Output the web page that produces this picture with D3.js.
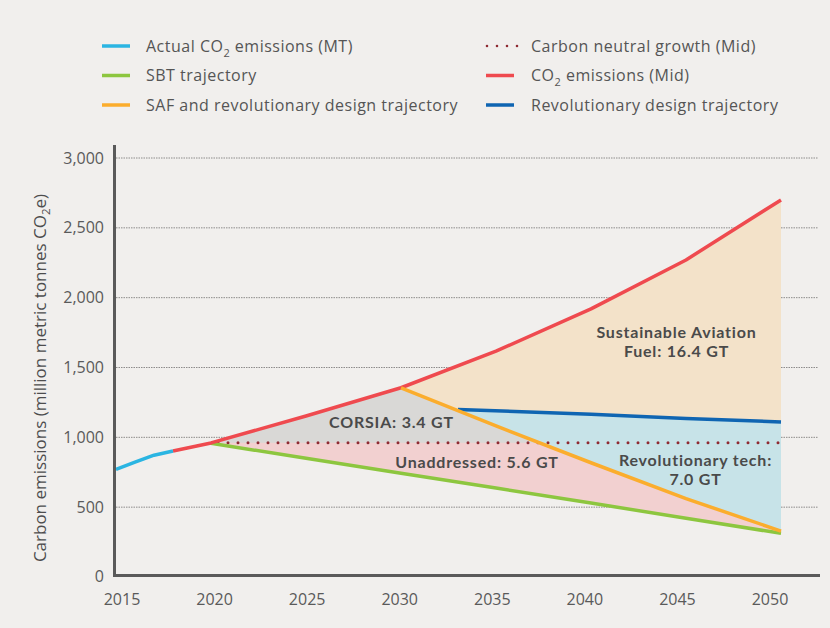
<!DOCTYPE html>
<html>
<head>
<meta charset="utf-8">
<script src="https://cdn.jsdelivr.net/npm/d3@7"></script>
<style>
  body { margin: 0; background: #f1efed; }
  svg { display: block; font-family: "Open Sans", sans-serif; }
</style>
</head>
<body>
<div id="chart"></div>
<script>
// values: [year, million tonnes]
var actualCO2 = [[2015, 771], [2016, 822], [2017, 872], [2018, 902]];
var co2Mid = [[2018, 902], [2020, 960], [2025, 1153], [2030, 1355],
              [2035, 1617], [2040, 1920], [2045, 2270], [2050, 2700]];
var sbt = [[2020, 957], [2025, 850], [2030, 743], [2035, 637],
           [2040, 530], [2045, 420], [2050, 313]];
var safRev = [[2030, 1355], [2035, 1082], [2040, 818], [2045, 561],
              [2050, 329]];
var revDesign = [[2033, 1200], [2040, 1165], [2045, 1135], [2050, 1110]];
var carbonNeutral = [[2020, 961], [2050, 961]];

var yearTicks = [2015, 2020, 2025, 2030, 2035, 2040, 2045, 2050];
var valueTicks = [0, 500, 1000, 1500, 2000, 2500, 3000];

var areaLabels = [
  {text: "Sustainable Aviation", year: 2044.5, value: 1752},
  {text: "Fuel: 16.4 GT", year: 2044.5, value: 1614},
  {text: "CORSIA: 3.4 GT", year: 2029.5, value: 1110},
  {text: "Unaddressed: 5.6 GT", year: 2034.0, value: 820},
  {text: "Revolutionary tech:", year: 2045.5, value: 837},
  {text: "7.0 GT", year: 2045.5, value: 699}
];

var legendItems = [
  {name: ["Actual CO", "2", " emissions (MT)"], color: "#2bb5e2", col: 0, row: 0},
  {name: ["SBT trajectory"], color: "#8dc63f", col: 0, row: 1},
  {name: ["SAF and revolutionary design trajectory"], color: "#fbad2d", col: 0, row: 2},
  {name: ["Carbon neutral growth (Mid)"], color: "#8f2a32", col: 1, row: 0, dotted: true},
  {name: ["CO", "2", " emissions (Mid)"], color: "#ef4a4f", col: 1, row: 1},
  {name: ["Revolutionary design trajectory"], color: "#0f65b2", col: 1, row: 2}
];

var W = 830, H = 628;
var svg = d3.select("#chart").append("svg")
    .attr("width", W)
    .attr("height", H);

svg.append("rect").attr("width", W).attr("height", H).attr("fill", "#f1efed");

var x = d3.scaleLinear().domain([2015, 2050]).range([116, 781]);
var xLabel = d3.scaleLinear().domain([2015, 2050]).range([121.5, 769.5]);
var y = d3.scaleLinear().domain([0, 3000]).range([577, 158]);

var line = d3.line()
    .x(function(d) { return x(d[0]); })
    .y(function(d) { return y(d[1]); });

function band(top, bottom) {
  return line(top.concat(bottom.slice().reverse())) + "Z";
}

// gridlines
svg.append("g")
  .selectAll("line")
  .data(valueTicks.filter(function(v) { return v > 0; }))
  .enter().append("line")
    .attr("x1", 116).attr("x2", 818)
    .attr("y1", function(d) { return y(d); })
    .attr("y2", function(d) { return y(d); })
    .attr("stroke", "#8d8b8a")
    .attr("stroke-width", 1)
    .attr("stroke-dasharray", "1.5,1");

// shaded wedges, layered back to front
var redTop = co2Mid.filter(function(d) { return d[0] >= 2030; });
var orangeAfter = safRev.filter(function(d) { return d[0] > 2030; });
var redThenOrange = co2Mid.filter(function(d) { return d[0] >= 2020 && d[0] <= 2030; })
    .concat(orangeAfter);

svg.append("path").attr("d", band(redTop, safRev)).attr("fill", "#f3e2c9");
svg.append("path").attr("d", band(redThenOrange, sbt)).attr("fill", "#d9d8d6");
svg.append("path").attr("d", band(carbonNeutral, sbt)).attr("fill", "#f2d0d0");
svg.append("path")
    .attr("d", band(revDesign, safRev.filter(function(d) { return d[0] > 2033; })))
    .attr("fill", "#c7e3e8");

// area labels
svg.append("g")
  .selectAll("text")
  .data(areaLabels)
  .enter().append("text")
    .attr("x", function(d) { return x(d.year); })
    .attr("y", function(d) { return y(d.value); })
    .attr("dy", "0.35em")
    .attr("text-anchor", "middle")
    .attr("fill", "#4a4a4a")
    .style("font-family", "Lato, sans-serif")
    .style("font-size", "16px")
    .style("font-weight", 700)
    .style("letter-spacing", "0.8px")
    .text(function(d) { return d.text; });

// lines
svg.append("path").attr("d", line(carbonNeutral))
    .attr("fill", "none").attr("stroke", "#8f2a32")
    .attr("stroke-width", 3).attr("stroke-dasharray", "0,10")
    .attr("stroke-dashoffset", -7)
    .attr("stroke-linecap", "round");

var series = [
  {data: sbt, color: "#8dc63f"},
  {data: co2Mid, color: "#ef4a4f"},
  {data: revDesign, color: "#0f65b2"},
  {data: safRev, color: "#fbad2d"},
  {data: actualCO2, color: "#2bb5e2"}
];
svg.append("g")
  .selectAll("path")
  .data(series)
  .enter().append("path")
    .attr("d", function(d) { return line(d.data); })
    .attr("fill", "none")
    .attr("stroke", function(d) { return d.color; })
    .attr("stroke-width", 3.5)
    .attr("stroke-linejoin", "round");

// axes
svg.append("line").attr("x1", 114.5).attr("x2", 114.5).attr("y1", 145).attr("y2", 577)
    .attr("stroke", "#5a5a5a").attr("stroke-width", 3);
svg.append("line").attr("x1", 113).attr("x2", 820).attr("y1", 575.5).attr("y2", 575.5)
    .attr("stroke", "#5a5a5a").attr("stroke-width", 3);

var yAxis = svg.append("g")
    .attr("transform", "translate(104,0)")
    .call(d3.axisLeft(y).tickValues(valueTicks).tickSize(0).tickPadding(0)
      .tickFormat(d3.format(",")));
yAxis.select(".domain").remove();
yAxis.selectAll("text").attr("fill", "#5a5a5a").style("font-size", "16px")
    .style("font-family", "Open Sans, sans-serif");
yAxis.select(".tick:first-of-type text").attr("y", -1);

var xAxis = svg.append("g")
    .attr("transform", "translate(0,594)")
    .call(d3.axisBottom(xLabel).tickValues(yearTicks).tickSize(0).tickPadding(0)
      .tickFormat(d3.format("d")));
xAxis.select(".domain").remove();
xAxis.selectAll("text").attr("fill", "#5a5a5a").style("font-size", "16px")
    .style("font-family", "Open Sans, sans-serif");

// y axis title
var yTitle = svg.append("text")
    .attr("transform", "translate(46,378) rotate(-90)")
    .attr("text-anchor", "middle")
    .attr("fill", "#4d4d4d")
    .style("font-size", "17px");
yTitle.append("tspan").text("Carbon emissions (million metric tonnes CO");
yTitle.append("tspan").attr("dy", "4").style("font-size", "11.5px").text("2");
yTitle.append("tspan").attr("dy", "-4").text("e)");

// legend
var colX = [102, 486];
var rowY = [46, 75.5, 105];
var leg = svg.append("g")
  .selectAll("g")
  .data(legendItems)
  .enter().append("g")
    .attr("transform", function(d) {
      return "translate(" + colX[d.col] + "," + rowY[d.row] + ")"; });
leg.append("line")
    .attr("x1", 0).attr("x2", function(d) { return d.dotted ? 31 : 28; })
    .attr("stroke", function(d) { return d.color; })
    .attr("stroke-width", function(d) { return d.dotted ? 2.6 : 3.5; })
    .attr("stroke-dasharray", function(d) { return d.dotted ? "0,10" : null; })
    .attr("stroke-linecap", function(d) { return d.dotted ? "round" : "butt"; })
    .attr("transform", function(d) { return d.dotted ? "translate(1,0)" : null; });
var legText = leg.append("text")
    .attr("x", function(d) { return d.col === 0 ? 44 : 45; })
    .attr("dy", "0.35em")
    .attr("fill", "#555")
    .style("font-size", "16px")
    .style("letter-spacing", "0.5px");
legText.selectAll("tspan")
  .data(function(d) { return d.name; })
  .enter().append("tspan")
    .attr("dy", function(d, i) { return i === 1 ? 5 : (i === 2 ? -5 : null); })
    .style("font-size", function(d, i) { return i === 1 ? "11px" : null; })
    .text(function(d) { return d; });
</script>
</body>
</html>
